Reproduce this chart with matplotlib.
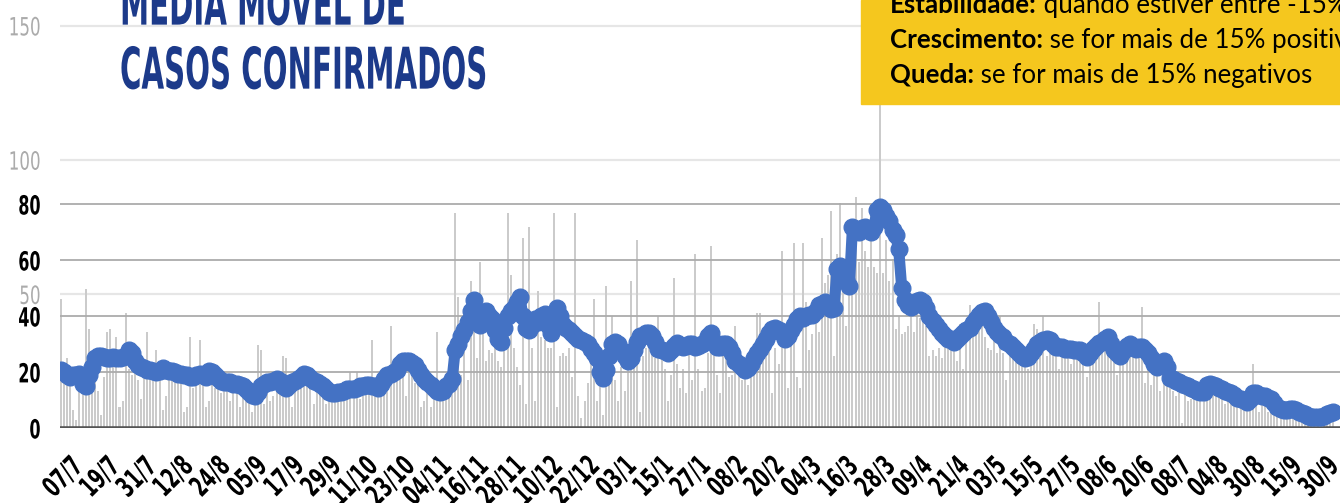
"""
media_movel_casos.py

Casos confirmados por dia (barras) e média móvel (linha), dados lidos do gráfico.
"""

import matplotlib
matplotlib.use("Agg")
import matplotlib.pyplot as plt
from matplotlib import font_manager, transforms
from matplotlib.patches import Rectangle
from matplotlib.patheffects import AbstractPathEffect

# Rótulos do eixo x (a cada 12 dias)
rotulos = ["07/7", "19/7", "31/7", "12/8", "24/8", "05/9", "17/9", "29/9",
           "11/10", "23/10", "04/11", "16/11", "28/11", "10/12", "22/12",
           "03/1", "15/1", "27/1", "08/2", "20/2", "04/3", "16/3", "28/3",
           "09/4", "21/4", "03/5", "15/5", "27/5", "08/6", "20/6", "08/7",
           "04/8", "30/8", "15/9", "30/9"]

# Casos confirmados por dia (barras, escala cinza 0-150)
casos = [
    48, 17, 26, 17, 7, 3, 15, 17, 52, 37, 21, 18,
    14, 5, 19, 36, 37, 24, 34, 8, 10, 43, 22, 20,
    21, 18, 11, 20, 36, 22, 19, 29, 20, 7, 12, 22,
    21, 20, 18, 21, 6, 8, 34, 15, 19, 33, 20, 8,
    10, 22, 15, 20, 13, 17, 18, 10, 20, 16, 8, 16,
    13, 12, 6, 14, 31, 29, 9, 16, 10, 12, 18, 17,
    27, 26, 16, 8, 17, 16, 17, 21, 19, 15, 9, 16,
    14, 12, 9, 15, 12, 10, 13, 17, 14, 13, 21, 15,
    21, 11, 16, 15, 17, 33, 16, 13, 17, 18, 16, 38,
    22, 26, 20, 24, 12, 25, 21, 17, 18, 8, 10, 14,
    8, 13, 36, 10, 12, 14, 13, 18, 80, 49, 20, 30,
    18, 55, 40, 26, 62, 38, 25, 29, 28, 33, 25, 23,
    36, 80, 57, 30, 23, 16, 71, 9, 75, 30, 10, 51,
    34, 33, 30, 30, 80, 8, 27, 28, 27, 30, 19, 80,
    12, 4, 10, 17, 25, 48, 10, 18, 5, 53, 16, 42,
    18, 10, 23, 14, 28, 55, 32, 70, 6, 27, 30, 33,
    30, 26, 42, 29, 22, 10, 20, 56, 24, 15, 22, 13,
    28, 18, 65, 22, 14, 15, 28, 68, 37, 20, 13, 30,
    29, 19, 20, 38, 22, 18, 20, 16, 20, 22, 43, 43,
    30, 39, 35, 13, 30, 24, 66, 30, 15, 40, 69, 19,
    15, 69, 47, 29, 35, 40, 36, 71, 54, 57, 81, 27,
    65, 84, 60, 38, 62, 70, 86, 62, 82, 66, 60, 79,
    60, 58, 165, 58, 70, 55, 63, 37, 42, 35, 36, 38,
    48, 36, 45, 41, 40, 38, 27, 29, 27, 30, 26, 37,
    30, 34, 31, 25, 39, 22, 33, 46, 42, 36, 40, 39,
    34, 30, 29, 33, 28, 42, 28, 18, 27, 26, 25, 24,
    25, 24, 22, 26, 39, 37, 30, 42, 27, 28, 30, 27,
    22, 28, 30, 27, 24, 29, 28, 27, 26, 19, 25, 28,
    30, 47, 34, 32, 30, 28, 25, 20, 28, 27, 29, 28,
    30, 28, 29, 45, 17, 24, 16, 22, 22, 14, 18, 20,
    15, 14, 12, 13, 2, 15, 10, 11, 13, 12, 12, 11,
    12, 14, 13, 15, 13, 12, 9, 12, 11, 9, 10, 10,
    9, 8, 10, 24, 11, 6, 13, 9, 6, 10, 8, 7,
    8, 6, 7, 8, 7, 6, 5, 6, 4, 5, 4, 5,
    4, 5, 4, 6, 5, 6,
]

# Média móvel (linha azul, escala preta 0-80)
media = [
    21, 20, 19, 18.5, 19, 19, 19.5, 16, 15, 19, 22, 25,
    26, 26, 25.5, 25, 25, 25.5, 25, 25, 25.5, 26, 28, 27,
    24, 22.5, 22, 21.5, 21, 21, 20.5, 20, 20.5, 21.5, 21, 20.5,
    20.5, 20, 19.5, 19.5, 19, 19, 18.5, 18.5, 19, 19.5, 19, 18.5,
    20.5, 20, 19, 18, 17, 16.5, 16.5, 16.5, 16, 16, 15.5, 15,
    14, 13, 12, 11.5, 13, 15, 16, 16.5, 16.5, 17, 17.5, 17,
    15, 14.5, 15.5, 16.5, 17, 17.5, 18.5, 19.5, 19, 18, 17, 16.5,
    16, 15, 14, 13, 12.5, 12.5, 13, 13, 13.5, 14, 14, 14,
    14.5, 15, 15, 15.5, 15.5, 15, 15, 14.5, 16, 17.5, 19, 19.5,
    20, 21, 23, 24, 24, 24, 23.5, 22.5, 21, 19, 17.5, 16.5,
    15.5, 14.5, 13.5, 13, 13.5, 15, 16, 17.5, 28, 30, 33, 35,
    38, 42, 46, 40, 37, 41, 42, 40, 39, 35, 32, 31,
    36, 40, 42, 43, 45, 47, 40, 36, 35, 37, 39, 38,
    40, 41, 37, 34, 39, 43, 40, 37, 36, 35, 34, 33,
    32, 31.5, 31, 30, 28.5, 27, 25, 20, 18, 21, 26, 30,
    31, 30, 28, 26, 24, 25, 28, 31, 33, 33, 34, 34,
    33, 31, 28.5, 28, 27.5, 27, 28, 29.5, 30.5, 29.5, 29, 29.5,
    30, 30, 29, 29.5, 30, 31, 33, 34, 31, 29, 29, 30,
    30, 29, 27, 24, 23, 22, 21, 21.5, 23, 25, 27, 28.5,
    30, 32, 34, 35.5, 36, 35, 34, 32, 33, 35, 37, 39,
    40, 39.5, 40, 40.5, 40.5, 42, 44, 44.5, 45, 44, 42.5, 43,
    57, 58, 56, 53, 51, 72, 71, 70, 71.5, 72, 71, 70,
    72, 78, 79, 78, 76, 74, 71, 69, 64, 50, 46, 44,
    43.5, 44, 45.5, 46, 45, 43, 40, 38.5, 37, 35.5, 34, 33,
    32, 32, 31, 32, 33, 34, 35, 36, 37.5, 39, 40.5, 41.5,
    42, 40, 38, 36, 34.5, 33.5, 32.5, 31, 30, 29, 28, 27,
    26, 25, 25.5, 27, 28.5, 30, 31, 31.5, 32, 31.5, 30, 29,
    29, 29, 28.5, 28.5, 28.5, 28, 28, 28, 27, 25.5, 27, 28.5,
    29.5, 30.5, 31, 32, 32.5, 30, 28, 27, 26, 27.5, 29.5, 30,
    29, 28.5, 29, 29, 28, 27, 25, 23, 22, 22.5, 24, 22,
    18, 17.5, 17, 16.5, 16, 15.5, 15, 14.5, 14, 13.5, 13, 13,
    15.5, 16, 15.5, 15, 14.5, 14, 13.5, 13, 12.5, 12, 11, 10.5,
    10, 9.5, 10.5, 12.5, 12.5, 12, 11.5, 11.5, 11, 10.5, 9, 7.5,
    7, 6.5, 6.5, 7, 7, 6.5, 6, 5.5, 5, 4.5, 4, 4,
    4, 4, 4.5, 5, 5.5, 6,
]

legenda = [
    ("Estabilidade:", " quando estiver entre -15% e 15%"),
    ("Crescimento:", " se for mais de 15% positivos"),
    ("Queda:", " se for mais de 15% negativos"),
]


class Estica(AbstractPathEffect):
    """Alonga o texto na vertical (imita a fonte condensada do original)."""

    def __init__(self, sy, ang=0, na_base=False):
        super().__init__()
        self.sy, self.ang, self.na_base = sy, ang, na_base

    def draw_path(self, renderer, gc, tpath, affine, rgbFace=None):
        ext = tpath.get_extents(affine)
        cx = (ext.x0 + ext.x1) / 2
        cy = ext.y0 if self.na_base else (ext.y0 + ext.y1) / 2
        t = affine + (transforms.Affine2D().translate(-cx, -cy)
                      .rotate_deg(-self.ang).scale(1, self.sy)
                      .rotate_deg(self.ang).translate(cx, cy))
        renderer.draw_path(gc, tpath, t, rgbFace)


nomes = {f.name for f in font_manager.fontManager.ttflist}
TEXTO = "Lato" if "Lato" in nomes else "DejaVu Sans"
ESTREITA = dict(family="DejaVu Sans", fontstretch="condensed")

W, H = 1340, 503
fig = plt.figure(figsize=(W / 100, H / 100), dpi=100)
ax = fig.add_axes([60 / W, (H - 428.3) / H, 1280 / W, 428.3 / H])
ax2 = ax.twinx()

dias = list(range(len(casos)))

# barras (escala 0-150)
ax.bar(dias, casos, width=0.65, color="#cbcbcb", zorder=2)
ax.set_ylim(0, 159.5)
ax.set_yticks([50, 100, 150])
ax.set_yticklabels(["50", "100", "150"], color="#ababab", fontsize=13.4, **ESTREITA)
ax.yaxis.grid(True, color="#e6e6e6", lw=1.6, zorder=0)
ax.set_axisbelow(True)

# média móvel (escala 0-80)
ax2.plot(dias, media, color="#4472C4", lw=8, marker="o", ms=12,
         solid_joinstyle="round", solid_capstyle="round", zorder=5)
ax2.set_ylim(0, 153)
ax2.yaxis.tick_left()
ax2.set_yticks([0, 20, 40, 60, 80])
ax2.set_yticklabels(["0", "20", "40", "60", "80"], fontsize=12.8,
                    fontweight="bold", **ESTREITA)
ax2.yaxis.grid(True, color="#ababab", lw=1.3, zorder=1)
ax2.axhline(0, color="#555555", lw=2.6, zorder=3)

for a in (ax, ax2):
    for s in a.spines.values():
        s.set_visible(False)
    a.tick_params(axis="y", length=0, pad=14)
for t in ax.get_yticklabels():
    t.set_path_effects([Estica(1.35)])
for t in ax2.get_yticklabels():
    t.set_path_effects([Estica(1.48)])

ax.set_xlim(-0.32, 415.3)
ax.set_xticks(dias[::12])
ax.set_xticklabels(rotulos, rotation=45, ha="right", va="top",
                   rotation_mode="anchor", fontsize=14, fontweight="bold",
                   **ESTREITA)
ax.tick_params(axis="x", length=0, pad=19)
desloc = transforms.ScaledTranslation(10 / 100, 0, fig.dpi_scale_trans)
for t in ax.get_xticklabels():
    t.set_transform(t.get_transform() + desloc)
    t.set_path_effects([Estica(1.45, ang=45)])

# título
for texto, base in (("MÉDIA MÓVEL DE", 25), ("CASOS CONFIRMADOS", 89)):
    fig.text(120 / W, 1 - base / H, texto, color="#1c3a8a", fontsize=23.4,
             fontweight="bold", va="baseline", **ESTREITA,
             path_effects=[Estica(1.77, na_base=True)])

# caixa amarela com a legenda
fig.patches.append(Rectangle((861 / W, 1 - 104 / H), 1 - 861 / W, 104 / H,
                             transform=fig.transFigure, color="#F5C71E", zorder=10))
render = fig.canvas.get_renderer()
for i, (negrito, resto) in enumerate(legenda):
    y = 1 - (13 + 35 * i) / H
    t = fig.text(890 / W, y, negrito, fontsize=18.6, fontweight="bold",
                 family=TEXTO, va="baseline", zorder=11)
    bb = t.get_window_extent(render)
    fig.text(bb.x1 / W, y, resto, fontsize=18.6, family=TEXTO,
             va="baseline", zorder=11)

fig.savefig("out.png", dpi=100)
